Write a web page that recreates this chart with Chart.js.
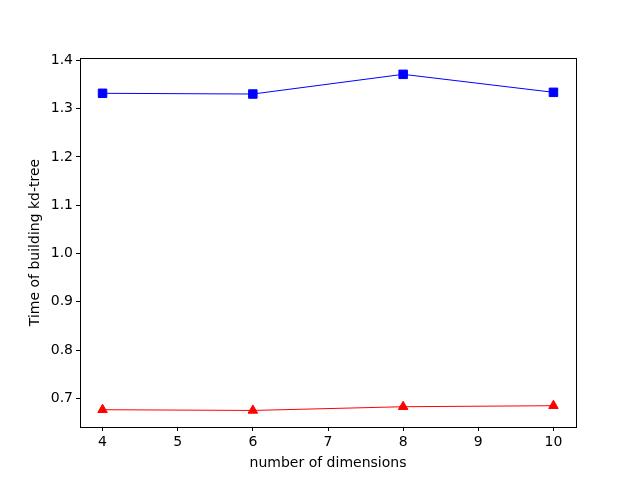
<!DOCTYPE html>
<html>
<head>
<meta charset="utf-8">
<script src="https://cdn.jsdelivr.net/npm/chart.js@4/dist/chart.umd.min.js"></script>
<style>
html,body{margin:0;padding:0;background:#fff;}
#wrap{width:640px;height:480px;}
</style>
</head>
<body>
<div id="wrap"><canvas id="c" width="640" height="480"></canvas></div>
<script>
const dimensions = [4, 6, 8, 10];
const seriesBlue = [1.3317, 1.3302, 1.371, 1.3337];
const seriesRed = [0.6764, 0.6749, 0.6826, 0.6847];
const xTicks = [4, 5, 6, 7, 8, 9, 10];
const yTicks = [0.7, 0.8, 0.9, 1.0, 1.1, 1.2, 1.3, 1.4];

const FONT = "'DejaVu Sans', sans-serif";

const frame = {
  id: 'frame',
  afterDatasetsDraw(chart) {
    const a = chart.chartArea, ctx = chart.ctx;
    ctx.save();
    ctx.strokeStyle = '#000';
    ctx.lineWidth = 1;
    ctx.strokeRect(Math.round(a.left) + 0.5, Math.round(a.top) + 0.5,
      Math.round(a.right - a.left), Math.round(a.bottom - a.top));
    ctx.restore();
  }
};

new Chart(document.getElementById('c'), {
  type: 'line',
  data: {
    datasets: [
      {
        data: dimensions.map((d, i) => ({x: d, y: seriesBlue[i]})),
        borderColor: '#0000ff', backgroundColor: '#0000ff',
        borderWidth: 1, pointStyle: 'rect', pointRadius: 6,
        pointBorderWidth: 1, pointBorderColor: '#0000ff', tension: 0
      },
      {
        data: dimensions.map((d, i) => ({x: d, y: seriesRed[i]})),
        borderColor: '#ff0000', backgroundColor: '#ff0000',
        borderWidth: 1, pointStyle: 'triangle', pointRadius: 5.5,
        pointBorderWidth: 1, pointBorderColor: '#ff0000', tension: 0
      }
    ]
  },
  options: {
    responsive: false,
    animation: false,
    layout: {padding: {top: 58, right: 64, left: 27, bottom: 8}},
    plugins: {legend: {display: false}, tooltip: {enabled: false}},
    scales: {
      x: {
        type: 'linear', min: 3.7, max: 10.3,
        afterBuildTicks(s) { s.ticks = xTicks.map(v => ({value: v})); },
        afterFit(s) { s.height = 45; },
        grid: {drawOnChartArea: false, color: '#000', tickLength: 4, tickWidth: 1},
        border: {color: '#000', width: 1},
        ticks: {color: '#000', font: {family: FONT, size: 14}, padding: 3, maxRotation: 0,
          callback: v => String(v)},
        title: {display: true, text: 'number of dimensions', color: '#000',
          font: {family: FONT, size: 14}, padding: {top: 3, bottom: 0}}
      },
      y: {
        type: 'linear', min: 0.6406, max: 1.4048,
        afterBuildTicks(s) { s.ticks = yTicks.map(v => ({value: v})); },
        afterFit(s) { s.width = 53; },
        grid: {drawOnChartArea: false, color: '#000', tickLength: 4, tickWidth: 1},
        border: {color: '#000', width: 1},
        ticks: {color: '#000', font: {family: FONT, size: 14}, padding: 3,
          callback: v => Number(v).toFixed(1)},
        title: {display: true, text: 'Time of building kd-tree', color: '#000',
          font: {family: FONT, size: 14}, padding: {top: 0, bottom: 6}}
      }
    }
  },
  plugins: [frame]
});
</script>
</body>
</html>
